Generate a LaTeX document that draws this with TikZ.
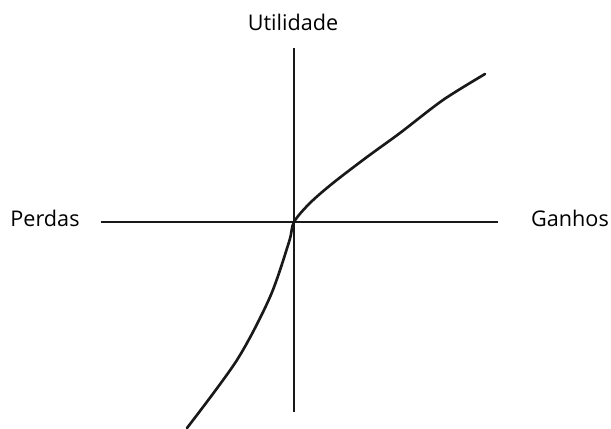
\documentclass[tikz,border=0pt]{standalone}
\usepackage{fontspec}
\setmainfont{Open Sans}
\usetikzlibrary{positioning}
\tikzset{
  axisline/.style={line width=1.4pt, black!90},
  utilcurve/.style={line width=1.5pt, black!90, line cap=round},
  axislabel/.style={font=\fontsize{12.3}{14}\selectfont}
}

\begin{document}
\begin{tikzpicture}
  \useasboundingbox (-5.88,-4.12) rectangle (6.34,4.44);
  % axes
  \coordinate (xmin) at (-3.86,0);
  \coordinate (xmax) at (4.08,0);
  \coordinate (ymin) at (0,-3.8);
  \coordinate (ymax) at (0,3.48);
  \draw[axisline] (xmin) -- (xmax);
  \draw[axisline] (ymin) -- (ymax);
  % value function
  \draw[utilcurve] plot[smooth] coordinates {(-2.14,-4.12) (-1.14,-2.76) (-0.48,-1.5) (-0.1,-0.4) (0,0) (0.32,0.38) (0.78,0.78) (1.46,1.3) (2.12,1.78) (2.98,2.44) (3.82,2.96)};
  \node[axislabel] (util) at (-0.02,4.0) {Utilidade};
  \node[axislabel] (perdas) at (-4.98,0.08) {Perdas};
  \node[axislabel] (ganhos) at (5.52,0.08) {Ganhos};
\end{tikzpicture}
\end{document}
